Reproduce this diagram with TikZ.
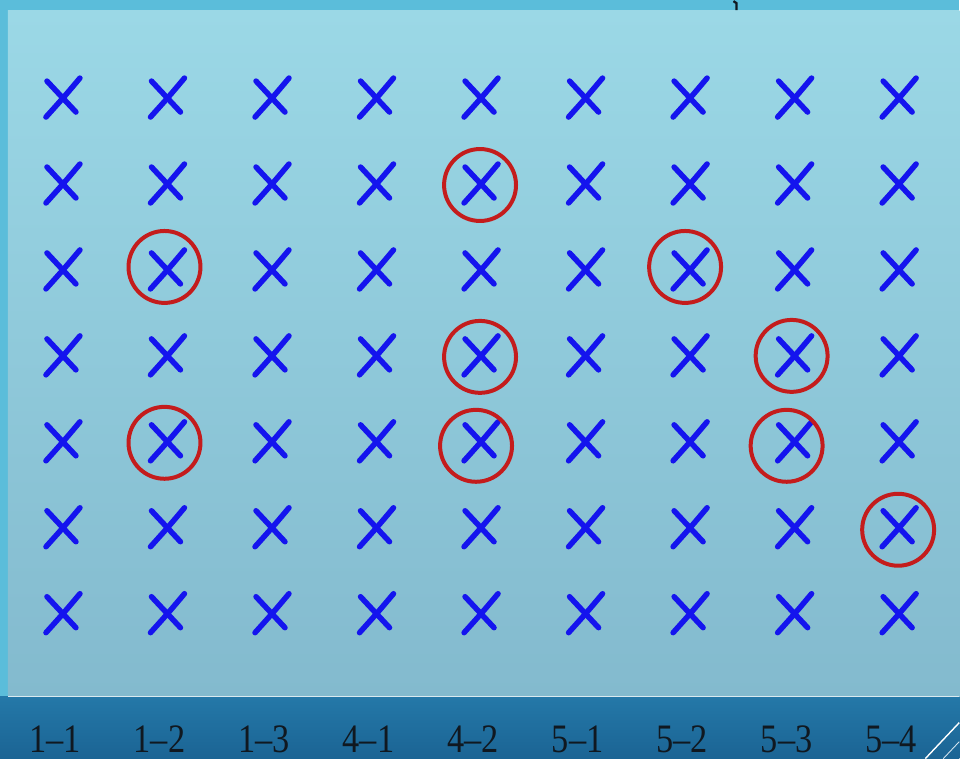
\documentclass[tikz,border=0pt]{standalone}
\usepackage{fontspec}
\setmainfont{Liberation Serif}
\usetikzlibrary{positioning}
\definecolor{MarkBlue}{HTML}{1414EE}
\definecolor{RingRed}{HTML}{C41C1C}
\definecolor{PanelTop}{HTML}{9BD8E6}
\definecolor{PanelBot}{HTML}{83BACE}
\definecolor{FrameBlue}{HTML}{5BBDDA}
\definecolor{BandTop}{HTML}{2478A8}
\definecolor{BandBot}{HTML}{1B6494}
\definecolor{LabDark}{HTML}{101820}

\tikzset{
  cross/.style={draw=MarkBlue,line width=0.11cm,line cap=round},
  ring/.style={circle,draw=RingRed,line width=0.08cm,minimum size=1.44cm,inner sep=0pt},
  lab/.style={anchor=base,text=LabDark,font=\fontsize{23}{23}\selectfont,xscale=0.85,inner sep=0pt}
}

\begin{document}
\begin{tikzpicture}[x=0.02cm,y=-0.02cm]
  % background: frame, panel and bottom band
  \fill[FrameBlue] (0,0) rectangle (960,759);
  \shade[top color=PanelTop,bottom color=PanelBot] (8,10) rectangle (960,697);
  \shade[top color=BandTop,bottom color=BandBot] (0,697) rectangle (960,759);
  \draw[white!70!PanelBot,line width=0.6pt] (8,697) -- (960,697);
  \draw[LabDark,line width=1.3pt] (734,1) -- (737,3) -- (737,10);
  \draw[white,line width=0.8pt] (926,759) -- (960,723);
  \draw[white!80!BandTop,line width=0.5pt] (944,759) -- (960,742);

  % grid of crosses
  \foreach \c in {1,...,9}
    \foreach \r in {1,...,7} {
      \coordinate (x\r\c) at ({62+104.6*(\c-1)},{97+86*(\r-1)});
      \draw[cross] ([shift={(-16,20)}]x\r\c) .. controls ([shift={(2,0)}]x\r\c) .. ([shift={(18,-19)}]x\r\c);
      \draw[cross] ([shift={(-15,-16)}]x\r\c) -- ([shift={(14,15)}]x\r\c);
    }

  % selected cells
  \node[ring] (r25) at ([shift={(0,2)}]x25) {};
  \node[ring] (r32) at ([shift={(-2,-2)}]x32) {};
  \node[ring] (r37) at ([shift={(-4,-2)}]x37) {};
  \node[ring] (r45) at ([shift={(0,2)}]x45) {};
  \node[ring] (r48) at ([shift={(-2,1)}]x48) {};
  \node[ring] (r52) at ([shift={(-2,2)}]x52) {};
  \node[ring] (r55) at ([shift={(-4,5)}]x55) {};
  \node[ring] (r58) at ([shift={(-7,5)}]x58) {};
  \node[ring] (r69) at ([shift={(0,3)}]x69) {};

  % column labels
  \foreach \c/\t in {1/1–1,2/1–2,3/1–3,4/4–1,5/4–2,6/5–1,7/5–2,8/5–3,9/5–4}
    \node[lab] (l\c) at ({55+104.6*(\c-1)},753) {\t};
\end{tikzpicture}
\end{document}
